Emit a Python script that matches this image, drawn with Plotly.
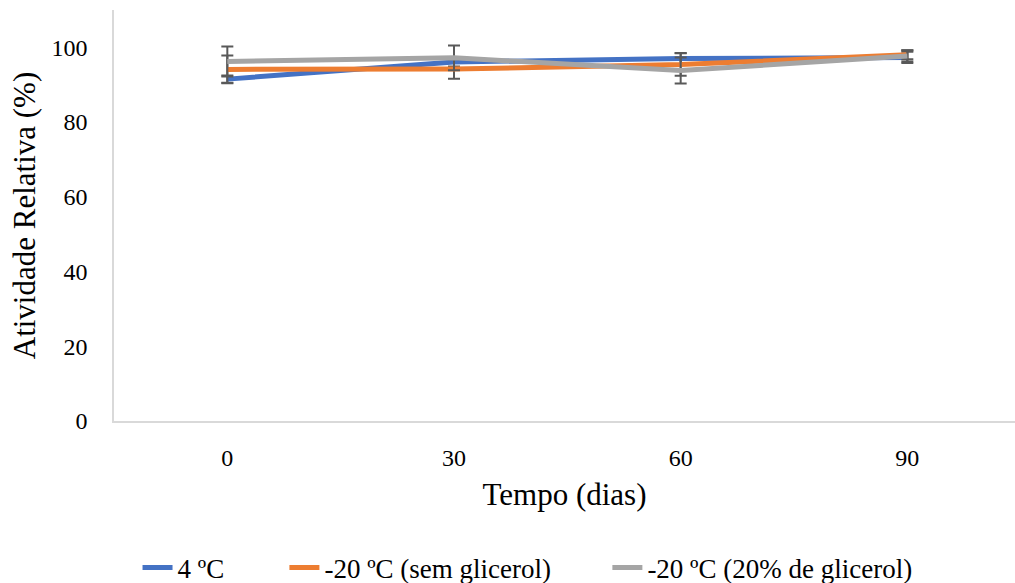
import plotly.graph_objects as go

# Storage time (days) and relative activity (%) for each storage condition
tempo = ["0", "30", "60", "90"]

atividade_4c = [91.5, 96.1, 97.0, 97.3]
erro_4c = [1.0, 1.2, 1.5, 1.5]

atividade_20c_sem = [94.1, 94.2, 95.4, 98.0]
erro_20c_sem = [3.7, 2.6, 3.0, 1.2]

atividade_20c_glic = [96.2, 97.2, 93.8, 97.7]
erro_20c_glic = [4.0, 3.3, 3.5, 1.5]

series = [
    ("4 ºC", atividade_4c, erro_4c, "#4472C4", "legend"),
    ("-20 ºC (sem glicerol)", atividade_20c_sem, erro_20c_sem, "#ED7D31", "legend2"),
    ("-20 ºC (20% de glicerol)", atividade_20c_glic, erro_20c_glic, "#A5A5A5", "legend3"),
]

font_family = "Liberation Serif, Times New Roman, serif"

fig = go.Figure()
for nome, valores, erros, cor, leg in series:
    fig.add_trace(go.Scatter(
        x=tempo, y=valores, name=nome, mode="lines", legend=leg,
        line=dict(color=cor, width=5),
        error_y=dict(type="data", array=erros, visible=True,
                     color="#595959", thickness=2, width=6),
    ))

# one legend box per series, placed relative to the whole page so they don't shrink the plot
legend_common = dict(orientation="h", xref="container", yref="container",
                     yanchor="middle", y=0.026, xanchor="left",
                     font=dict(family=font_family, size=27, color="black"),
                     bgcolor="rgba(0,0,0,0)")

fig.update_layout(
    width=1015, height=583,
    margin=dict(l=114, r=0, t=10, b=162),
    paper_bgcolor="white", plot_bgcolor="white",
    font=dict(family=font_family, size=24, color="black"),
    showlegend=True,
    legend=dict(x=0.1355, **legend_common),
    legend2=dict(x=0.2802, **legend_common),
    legend3=dict(x=0.5984, **legend_common),
    xaxis=dict(
        type="category", range=[-0.5, 3.475],
        showline=True, linecolor="#D9D9D9", linewidth=1.5,
        showgrid=False, ticks="", ticklabelstandoff=14,
        tickfont=dict(family=font_family, size=24, color="black"),
        title=dict(text="Tempo (dias)", font=dict(family=font_family, size=31), standoff=14),
    ),
    yaxis=dict(
        range=[0, 110], tickvals=[0, 20, 40, 60, 80, 100],
        showline=True, linecolor="#D9D9D9", linewidth=1.5,
        showgrid=False, zeroline=False, ticks="", ticklabelstandoff=20,
        tickfont=dict(family=font_family, size=24, color="black"),
        title=dict(text="Atividade Relativa (%)", font=dict(family=font_family, size=31), standoff=7),
    ),
)

fig.write_html("out.html")
